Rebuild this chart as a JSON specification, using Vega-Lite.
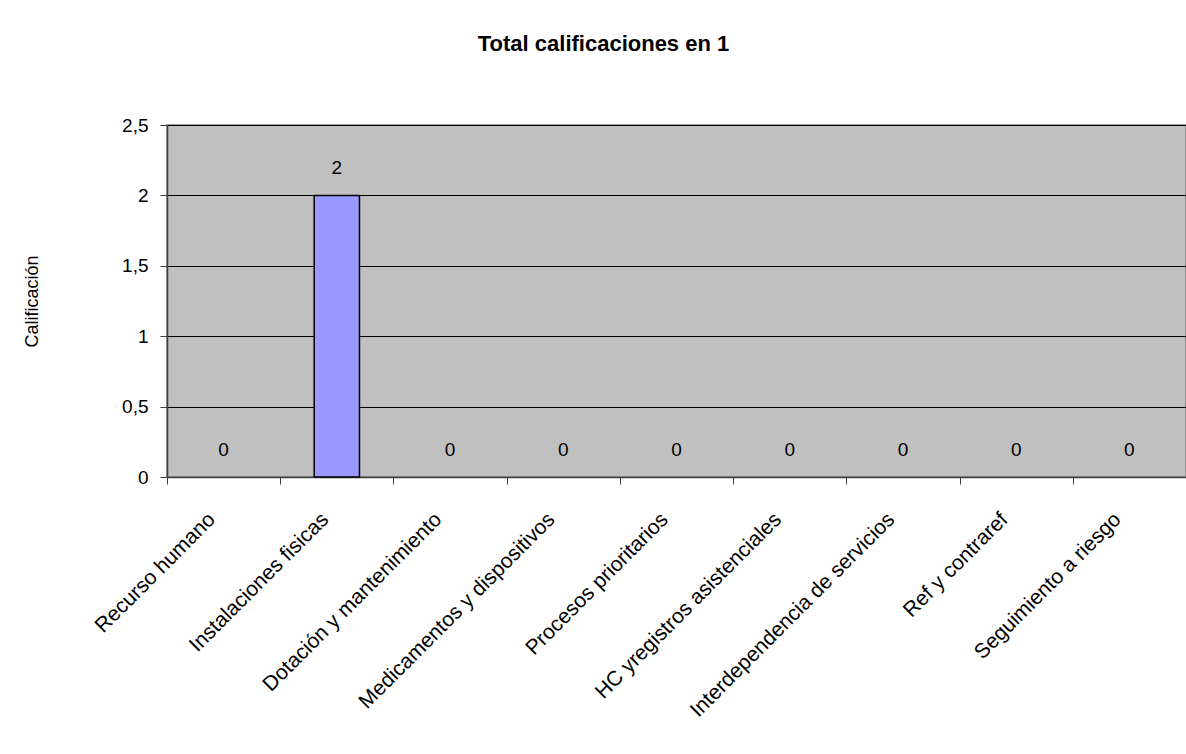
{
  "$schema": "https://vega.github.io/schema/vega-lite/v6.json",
  "autosize": "none",
  "width": 1019,
  "height": 352,
  "padding": {"left": 167, "top": 125, "right": 0, "bottom": 277},
  "background": "white",
  "config": {
    "locale": {"number": {"decimal": ",", "thousands": ".", "grouping": [3], "currency": ["", " €"]}},
    "font": "Liberation Sans",
    "view": {"fill": "#C0C0C0", "stroke": "#808080", "strokeWidth": 1.5}
  },
  "title": {
    "text": "Total calificaciones en 1",
    "fontSize": 22,
    "fontWeight": "bold",
    "font": "Liberation Sans",
    "color": "black",
    "anchor": "middle",
    "frame": "group",
    "baseline": "alphabetic",
    "dx": -73,
    "offset": 43
  },
  "data": {
    "values": [
      {"categoria": "Recurso humano", "valor": 0},
      {"categoria": "Instalaciones fisicas", "valor": 2},
      {"categoria": "Dotación y mantenimiento", "valor": 0},
      {"categoria": "Medicamentos y dispositivos", "valor": 0},
      {"categoria": "Procesos prioritarios", "valor": 0},
      {"categoria": "HC yregistros asistenciales", "valor": 0},
      {"categoria": "Interdependencia de servicios", "valor": 0},
      {"categoria": "Ref y contraref", "valor": 0},
      {"categoria": "Seguimiento a riesgo", "valor": 0}
    ]
  },
  "encoding": {
    "x": {
      "field": "categoria",
      "type": "nominal",
      "sort": ["Recurso humano", "Instalaciones fisicas", "Dotación y mantenimiento", "Medicamentos y dispositivos", "Procesos prioritarios", "HC yregistros asistenciales", "Interdependencia de servicios", "Ref y contraref", "Seguimiento a riesgo"],
      "scale": {"paddingInner": 0, "paddingOuter": 0},
      "axis": {
        "title": null,
        "labelAngle": -45,
        "labelAlign": "right",
        "labelBaseline": "middle",
        "labelPadding": 32,
        "labelOffset": -12,
        "labelFontSize": 21,
        "labelColor": "black",
        "labelFont": "Liberation Sans",
        "tickBand": "extent",
        "ticks": true,
        "tickColor": "#404040",
        "tickSize": 7,
        "domainColor": "#404040",
        "domainWidth": 1.5,
        "grid": false,
        "labelOverlap": false,
        "labelLimit": 0
      }
    },
    "y": {
      "field": "valor",
      "type": "quantitative",
      "scale": {"domain": [0, 2.5], "nice": false},
      "axis": {
        "title": "Calificación",
        "titleFontSize": 18,
        "titleFontWeight": "normal",
        "titleColor": "black",
        "titleFont": "Liberation Sans",
        "titlePadding": 80,
        "values": [0, 0.5, 1, 1.5, 2, 2.5],
        "format": ".1~f",
        "labelFontSize": 19,
        "labelColor": "black",
        "labelFont": "Liberation Sans",
        "labelPadding": 12,
        "tickSize": 7,
        "tickColor": "#404040",
        "domainColor": "#404040",
        "domainWidth": 1.5,
        "grid": true,
        "gridColor": "black",
        "gridWidth": 1,
        "gridOpacity": 1
      }
    }
  },
  "layer": [
    {
      "transform": [{"filter": "datum.valor > 0"}],
      "mark": {"type": "bar", "fill": "#9999FF", "stroke": "black", "strokeWidth": 1.5, "width": {"band": 0.4}}
    },
    {
      "mark": {"type": "text", "fontSize": 19, "font": "Liberation Sans", "color": "black", "dy": -27, "baseline": "middle"},
      "encoding": {"text": {"field": "valor", "type": "quantitative", "format": ".1~f"}}
    }
  ]
}
